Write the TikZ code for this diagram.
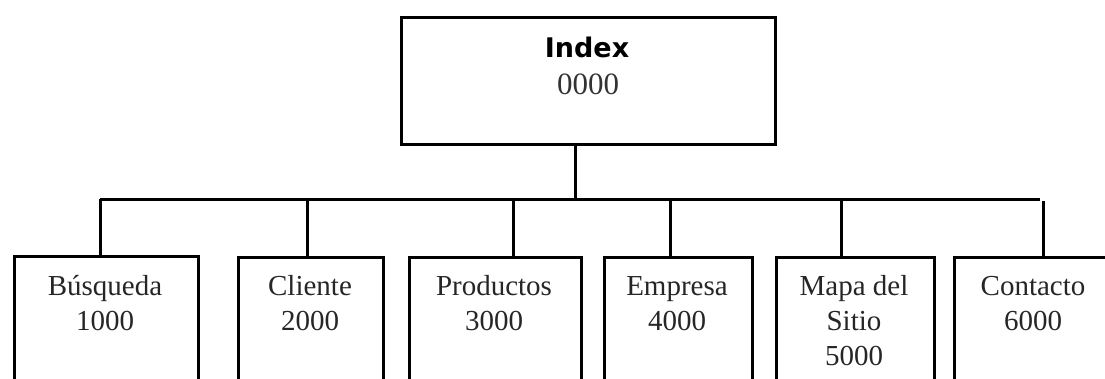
\documentclass[tikz,border=0pt]{standalone}
\usepackage{fontspec}
\setmainfont{Liberation Serif}
\newfontfamily\idxfont{DejaVu Sans}
\begin{document}
\begin{tikzpicture}[x=1pt,y=-1pt,
  box/.style={draw, line width=3.4pt, inner sep=0pt, anchor=north west},
  lbl/.style={align=center, inner sep=0pt, anchor=base, text=black!85, font=\fontsize{29}{35}\selectfont},
  wire/.style={line width=3pt}]
\useasboundingbox (0,0) rectangle (1105,378);
\clip (0,0) rectangle (1105,378);
% root
\node[box, minimum width=374pt, minimum height=127pt] (idx) at (400,16) {};
\node[inner sep=0pt, anchor=base, font=\idxfont\bfseries\fontsize{27}{30}\selectfont] (idxt) at (587,57) {Index};
\node[inner sep=0pt, anchor=base, text=black!80, font=\fontsize{31}{36}\selectfont] (idxn) at (588,94) {0000};
% children
\node[box, minimum width=184pt, minimum height=170pt] (b) at (13,255) {};
\node[box, minimum width=145pt, minimum height=170pt] (c) at (237,256) {};
\node[box, minimum width=172pt, minimum height=170pt] (p) at (408,256) {};
\node[box, minimum width=148pt, minimum height=170pt] (e) at (603,256) {};
\node[box, minimum width=158pt, minimum height=170pt] (m) at (775,256) {};
\node[box, minimum width=170pt, minimum height=170pt] (co) at (953,256) {};
\node[lbl] (bt) at (105,330) {Búsqueda\\1000};
\node[lbl] (ct) at (310,330) {Cliente\\2000};
\node[lbl] (pt) at (494,330) {Productos\\3000};
\node[lbl] (et) at (677,330) {Empresa\\4000};
\node[lbl] (mt) at (854,365) {Mapa del\\Sitio\\5000};
\node[lbl] (cot) at (1033,330) {Contacto\\6000};
% connectors
\coordinate (j0) at (575,199);
\coordinate (jb) at (100,199);
\coordinate (jc) at (307,199);
\coordinate (jp) at (513,199);
\coordinate (je) at (670,199);
\coordinate (jm) at (841,199);
\coordinate (jr) at (1040,199);
\coordinate (jco) at (1043,201);
\draw[wire] (idx.south -| j0) -- (j0);
\draw[wire] (jb) -- (jr);
\draw[wire] (jb) -- (jb |- b.north);
\draw[wire] (jc) -- (jc |- c.north);
\draw[wire] (jp) -- (jp |- p.north);
\draw[wire] (je) -- (je |- e.north);
\draw[wire] (jm) -- (jm |- m.north);
\draw[wire] (jco) -- (jco |- co.north);
\end{tikzpicture}
\end{document}
